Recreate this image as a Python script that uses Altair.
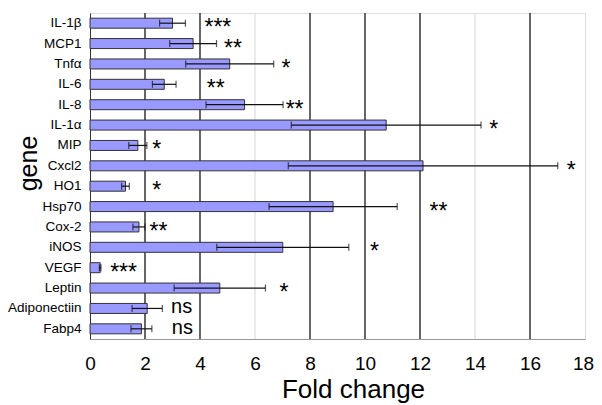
import altair as alt
import pandas as pd

genes = ["IL-1β", "MCP1", "Tnfα", "IL-6", "IL-8", "IL-1α", "MIP", "Cxcl2", "HO1",
         "Hsp70", "Cox-2", "iNOS", "VEGF", "Leptin", "Adiponectiin", "Fabp4"]
fold = [3.0, 3.75, 5.08, 2.70, 5.62, 10.77, 1.74, 12.11, 1.29, 8.84, 1.78, 7.01, 0.37, 4.72, 2.08, 1.87]
err = [0.47, 0.85, 1.6, 0.43, 1.4, 3.45, 0.33, 4.9, 0.14, 2.33, 0.22, 2.4, 0.03, 1.66, 0.55, 0.38]
sig = ["***", "**", "*", "**", "**", "*", "*", "*", "*", "**", "**", "*", "***", "*", "ns", "ns"]
sig_x = [4.65, 5.2, 7.13, 4.57, 7.44, 14.68, 2.43, 17.5, 2.43, 12.67, 2.49, 10.34, 1.22, 7.05, 3.33, 3.36]

grid_vals = [2, 4, 6, 8, 10, 12, 14, 16]
grid_dark = [True, True, False, True, True, True, False, True]
x_ticks = [0, 2, 4, 6, 8, 10, 12, 14, 16, 18]

df = pd.DataFrame({"gene": genes, "fold": fold, "err": err, "sig": sig, "sig_x": sig_x})
df["lo"] = df["fold"] - df["err"]
df["hi"] = df["fold"] + df["err"]
df_star = df[df["sig"] != "ns"]
df_ns = df[df["sig"] == "ns"]
grid = pd.DataFrame({"v": grid_vals, "dark": ["dark" if d else "light" for d in grid_dark]})

FONT = "Liberation Sans"
W, H = 495, 326

xscale = alt.Scale(domain=[0, 18], nice=False, zero=True)
yscale = alt.Scale(domain=genes)

xaxis = alt.Axis(values=x_ticks, title="Fold change", titleFontSize=26, titleFontWeight="normal",
                 titleFont=FONT, titleX=263, titleY=58, titleBaseline="alphabetic", titleAlign="center",
                 labelFontSize=19, labelFont=FONT, labelColor="black", labelPadding=15, ticks=False,
                 labelOffset={"condition": {"test": "datum.value == 18", "value": -2}, "value": 0},
                 labelFlush=False, grid=False, domainColor="#999999", titleColor="black")
yaxis = alt.Axis(title="gene", titleFontSize=25, titleFontWeight="normal", titleFont=FONT,
                 titleX=-54, titleY=150, titleAngle=270, titleBaseline="alphabetic", titleAlign="center",
                 labelFontSize=13.5, labelFont=FONT, labelColor="black", labelPadding=9, ticks=False,
                 grid=False, domainColor="#333333", titleColor="black")

gridlayer = alt.Chart(grid).mark_rule(strokeWidth=1.2).encode(
    x=alt.X("v:Q", scale=xscale, axis=xaxis),
    color=alt.Color("dark:N", scale=alt.Scale(domain=["dark", "light"], range=["#000000", "#dddddd"]), legend=None),
)

bars = alt.Chart(df).mark_bar(size=10, color="#9999ff", stroke="#333333", strokeWidth=1).encode(
    y=alt.Y("gene:N", scale=yscale, axis=yaxis, sort=genes),
    x=alt.X("fold:Q", scale=xscale, axis=xaxis),
)

errline = alt.Chart(df).mark_rule(color="#111111", strokeWidth=1.2).encode(
    y=alt.Y("gene:N", scale=yscale, sort=genes),
    x=alt.X("lo:Q", scale=xscale),
    x2="hi:Q",
)
caplo = alt.Chart(df).mark_tick(color="#111111", size=7, thickness=1.2, orient="vertical").encode(
    y=alt.Y("gene:N", scale=yscale, sort=genes),
    x=alt.X("lo:Q", scale=xscale),
)
caphi = alt.Chart(df).mark_tick(color="#111111", size=7, thickness=1.2, orient="vertical").encode(
    y=alt.Y("gene:N", scale=yscale, sort=genes),
    x=alt.X("hi:Q", scale=xscale),
)

stars = alt.Chart(df_star).mark_text(font=FONT, fontSize=23, color="black", align="center",
                                     baseline="alphabetic", dy=12).encode(
    y=alt.Y("gene:N", scale=yscale, sort=genes),
    x=alt.X("sig_x:Q", scale=xscale),
    text="sig:N",
)
ns = alt.Chart(df_ns).mark_text(font=FONT, fontSize=20, color="black", align="center",
                                baseline="alphabetic", dy=5).encode(
    y=alt.Y("gene:N", scale=yscale, sort=genes),
    x=alt.X("sig_x:Q", scale=xscale),
    text="sig:N",
)

chart = alt.layer(gridlayer, bars, errline, caplo, caphi, stars, ns).properties(
    width=W, height=H,
    autosize=alt.AutoSizeParams(type="none"),
    padding={"left": 82, "top": 5, "right": 9, "bottom": 65},
).configure_view(stroke="#999999", strokeWidth=1.2).configure(background="white")

chart.save("out.html", embed_options={"renderer": "svg", "actions": False})
